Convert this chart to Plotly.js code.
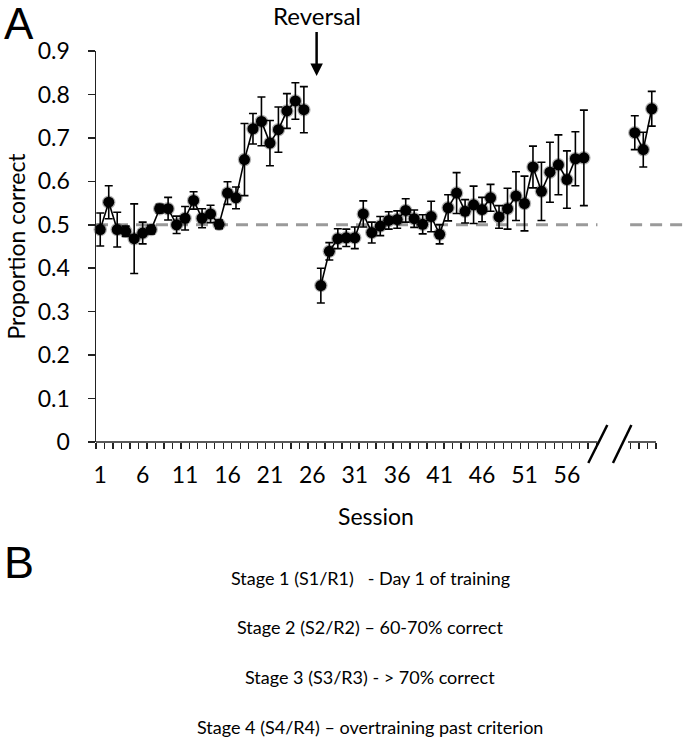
<!DOCTYPE html>
<html><head><meta charset="utf-8">
<script src="https://cdn.plot.ly/plotly-3.0.1.min.js"></script>
<style>html,body{margin:0;padding:0;background:#fff}#chart{width:685px;height:742px}</style>
</head><body><div id="chart"></div>
<script>
// ---- data ----
const preSessions = [1,2,3,4,5,6,7,8,9,10,11,12,13,14,15,16,17,18,19,20,21,22,23,24,25];
const preMeans = [0.489,0.552,0.489,0.485,0.468,0.481,0.489,0.537,0.537,0.500,0.515,0.556,0.515,0.525,0.501,0.573,0.562,0.650,0.721,0.738,0.688,0.719,0.762,0.785,0.765];
const preSEM   = [0.038,0.038,0.040,0.012,0.080,0.025,0.010,0.010,0.026,0.020,0.027,0.020,0.022,0.020,0.010,0.026,0.025,0.083,0.035,0.056,0.052,0.052,0.040,0.042,0.053];

const revSessions = [27,28,29,30,31,32,33,34,35,36,37,38,39,40,41,42,43,44,45,46,47,48,49,50,51,52,53,54,55,56,57,58];
const revMeans = [0.360,0.439,0.468,0.470,0.470,0.525,0.482,0.497,0.510,0.512,0.533,0.514,0.501,0.519,0.478,0.539,0.573,0.531,0.546,0.535,0.562,0.518,0.537,0.566,0.549,0.633,0.577,0.621,0.638,0.604,0.652,0.654];
const revSEM   = [0.040,0.020,0.023,0.020,0.025,0.030,0.024,0.022,0.020,0.020,0.027,0.020,0.022,0.035,0.022,0.030,0.047,0.027,0.043,0.028,0.031,0.026,0.047,0.056,0.063,0.048,0.067,0.069,0.069,0.066,0.062,0.110];

const overSessions = [64,65,66];
const overMeans = [0.712,0.673,0.767];
const overSEM   = [0.039,0.040,0.040];

const tickSessions = [1,6,11,16,21,26,31,36,41,46,51,56];
const tickLabels = ['1','6','11','16','21','26','31','36','41','46','51','56'];
const yTickVals = [0,0.1,0.2,0.3,0.4,0.5,0.6,0.7,0.8,0.9];
const yTickLabels = ['0','0.1','0.2','0.3','0.4','0.5','0.6','0.7','0.8','0.9'];
const chanceLevel = 0.5;
const reversalAt = 26.5;
const stageLines = [
  'Stage 1 (S1/R1)\u00a0\u00a0\u00a0- Day 1 of training',
  'Stage 2 (S2/R2) \u2013 60-70% correct',
  'Stage 3 (S3/R3) - > 70% correct',
  'Stage 4 (S4/R4) \u2013 overtraining past criterion'
];

// ---- layout geometry ----
const W = 685, H = 742;
const M = {l:96, r:29, t:51, b:300};
const PW = W - M.l - M.r, PH = H - M.t - M.b;
const XR = [0.5, 66.5];
const px = v => (v - M.l) / PW;            // pixel x -> paper
const py = v => (M.t + PH - v) / PH;       // pixel y -> paper
const dpx = v => (v - XR[0]) / (XR[1] - XR[0]); // data x -> paper

// category boundaries for tick marks (Excel style), none inside the axis break
const boundaries = [];
for (let b = 0.5; b <= 59.5; b += 1) boundaries.push(b);
for (let b = 63.5; b <= 66.5; b += 1) boundaries.push(b);

const FONT = 'Lato, "Open Sans", sans-serif';
const AX = '#222';

function series(x, y, e) {
  return {
    type: 'scatter', mode: 'lines+markers', x: x, y: y,
    error_y: {type: 'data', array: e, visible: true, color: '#000', thickness: 1.6, width: 4},
    line: {color: '#000', width: 1.6},
    marker: {size: 11, color: '#000', line: {color: 'rgba(0,0,0,0.3)', width: 2.5}},
    showlegend: false, cliponaxis: false, hoverinfo: 'x+y'
  };
}

const data = [
  series(preSessions, preMeans, preSEM),
  series(revSessions, revMeans, revSEM),
  series(overSessions, overMeans, overSEM)
];

const breakEnd = 59.6, breakStart = 63.2;
const shapes = [
  {type:'line', xref:'paper', yref:'y', x0:0, x1:dpx(breakEnd), y0:chanceLevel, y1:chanceLevel,
   line:{color:'#9a9a9a', width:3, dash:'12px,8px'}, layer:'below'},
  {type:'line', xref:'paper', yref:'y', x0:dpx(63.45), x1:px(W), y0:chanceLevel, y1:chanceLevel,
   line:{color:'#9a9a9a', width:3, dash:'12px,8px'}, layer:'below'},
  {type:'line', xref:'x', yref:'paper', x0:XR[0], x1:breakEnd, y0:0, y1:0, line:{color:AX, width:1.5}},
  {type:'line', xref:'x', yref:'paper', x0:breakStart, x1:XR[1], y0:0, y1:0, line:{color:AX, width:1.5}},
  {type:'line', xref:'x', yref:'paper', x0:58.52, x1:60.76, y0:py(463), y1:py(425), line:{color:'#000', width:2.5}},
  {type:'line', xref:'x', yref:'paper', x0:61.43, x1:63.60, y0:py(463), y1:py(425), line:{color:'#000', width:2.5}}
];

const annotations = [
  {text:'A', xref:'paper', yref:'paper', x:px(2), y:py(23), xanchor:'left', yanchor:'middle', showarrow:false,
   font:{family:'"Liberation Sans", Arial, sans-serif', size:44, color:'#000'}},
  {text:'B', xref:'paper', yref:'paper', x:px(2), y:py(562), xanchor:'left', yanchor:'middle', showarrow:false,
   font:{family:'"Liberation Sans", Arial, sans-serif', size:45, color:'#000'}},
  {text:'Reversal', xref:'x', yref:'y', x:reversalAt, y:0.8425, ax:0, ay:-60, showarrow:true,
   arrowhead:2, arrowsize:1, arrowwidth:2.5, arrowcolor:'#000', standoff:0,
   font:{family:FONT, size:24, color:'#000'}}
];
const stageY = [578, 627, 677, 727];
stageLines.forEach((t, i) => annotations.push({
  text:t, xref:'paper', yref:'paper', x:px(370), y:py(stageY[i]), xanchor:'center', yanchor:'middle',
  showarrow:false, font:{family:FONT, size:18, color:'#000'}
}));

const layout = {
  width: W, height: H, margin: M, paper_bgcolor:'#fff', plot_bgcolor:'#fff',
  showlegend: false, font:{family:FONT, color:'#000'},
  xaxis: {
    range: XR, showgrid:false, zeroline:false, showline:false,
    tickmode:'array', tickvals: tickSessions, ticktext: tickLabels,
    ticks:'outside', ticklen:6, tickcolor:'rgba(0,0,0,0)',
    minor: {tickmode:'array', tickvals: boundaries, ticks:'outside', ticklen:6, tickwidth:1.3, tickcolor:AX, showgrid:false},
    tickfont:{family:FONT, size:23, color:'#000'}, ticklabelstandoff: 6,
    title:{text:'Session', font:{family:FONT, size:23, color:'#000'}, standoff:22}
  },
  yaxis: {
    range:[0, 0.9], showgrid:false, zeroline:false, showline:true, linecolor:AX, linewidth:1.5,
    tickmode:'array', tickvals:yTickVals, ticktext:yTickLabels,
    ticks:'outside', ticklen:7, tickwidth:1.5, tickcolor:AX,
    tickfont:{family:FONT, size:23, color:'#000'}, ticklabelstandoff: 13,
    title:{text:'Proportion correct', font:{family:FONT, size:23, color:'#000'}, standoff:5}
  },
  shapes: shapes,
  annotations: annotations
};

Plotly.newPlot('chart', data, layout, {staticPlot:true, displayModeBar:false});
</script>
</body></html>
